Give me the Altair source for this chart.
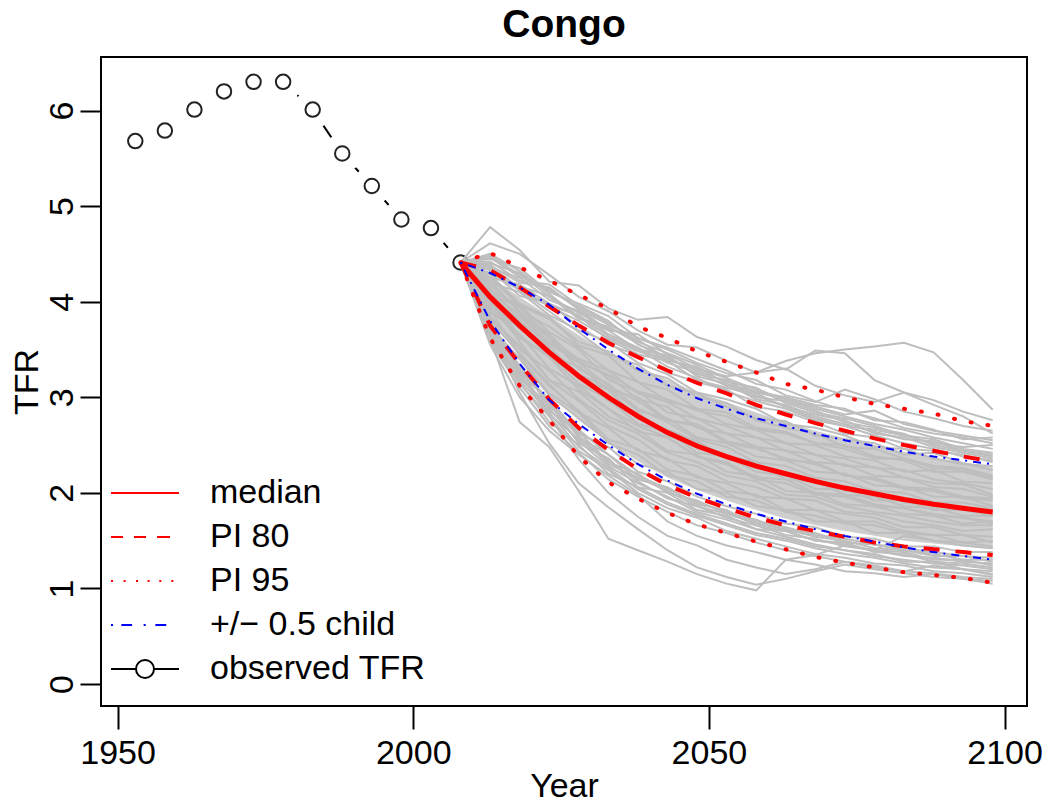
import altair as alt
import pandas as pd

FONT = "Liberation Sans"

# observed TFR
obs_years = [1953, 1958, 1963, 1968, 1973, 1978, 1983, 1988, 1993, 1998, 2003, 2008]
obs_tfr = [5.68, 5.79, 6.01, 6.20, 6.30, 6.30, 6.01, 5.55, 5.21, 4.86, 4.77, 4.41]

# projection years
proj_years = [2008, 2013, 2018, 2023, 2028, 2033, 2038, 2043, 2048, 2053,
              2058, 2063, 2068, 2073, 2078, 2083, 2088, 2093, 2098]

median = [4.41, 4.05, 3.75, 3.47, 3.22, 3.00, 2.80, 2.63, 2.49, 2.38,
          2.28, 2.20, 2.12, 2.05, 1.99, 1.93, 1.88, 1.84, 1.80]
pi80_lo = [4.41, 3.75, 3.35, 2.98, 2.68, 2.45, 2.25, 2.08, 1.95, 1.84,
           1.74, 1.66, 1.60, 1.54, 1.48, 1.44, 1.41, 1.38, 1.35]
pi80_hi = [4.41, 4.33, 4.15, 3.95, 3.75, 3.57, 3.42, 3.28, 3.15, 3.04,
           2.92, 2.82, 2.73, 2.65, 2.57, 2.50, 2.44, 2.38, 2.33]
pi95_lo = [4.41, 3.62, 3.12, 2.76, 2.38, 2.11, 1.94, 1.79, 1.67, 1.58,
           1.49, 1.41, 1.33, 1.27, 1.22, 1.17, 1.14, 1.11, 1.06]
pi95_hi = [4.41, 4.51, 4.36, 4.22, 4.07, 3.93, 3.74, 3.62, 3.48, 3.37,
           3.26, 3.14, 3.08, 3.00, 2.93, 2.88, 2.83, 2.75, 2.70]
half_lo = [4.41, 3.80, 3.35, 2.97, 2.72, 2.50, 2.30, 2.13, 1.99, 1.88,
           1.78, 1.70, 1.62, 1.55, 1.49, 1.43, 1.38, 1.34, 1.30]
half_hi = [4.41, 4.30, 4.15, 3.97, 3.72, 3.50, 3.30, 3.13, 2.99, 2.88,
           2.78, 2.70, 2.62, 2.55, 2.49, 2.43, 2.38, 2.34, 2.30]

# dense core of the trajectory cloud
core_lo = [4.41, 3.82, 3.42, 3.05, 2.76, 2.53, 2.33, 2.16, 2.03, 1.92,
           1.82, 1.73, 1.66, 1.60, 1.55, 1.50, 1.47, 1.44, 1.41]
core_hi = [4.41, 4.25, 4.05, 3.85, 3.65, 3.47, 3.32, 3.18, 3.05, 2.95,
           2.84, 2.74, 2.65, 2.57, 2.50, 2.43, 2.37, 2.32, 2.27]

trajectories = [
    [4.41, 4.30, 4.12, 3.95, 3.80, 3.62, 3.48, 3.40, 3.30, 3.22, 3.26, 3.38, 3.46, 3.50, 3.53, 3.57, 3.47, 3.18, 2.87],
    [4.41, 4.78, 4.54, 4.21, 4.17, 3.93, 3.81, 3.84, 3.63, 3.53, 3.39, 3.29, 3.49, 3.46, 3.18, 3.05, 2.97, 2.85, 2.76],
    [4.41, 4.61, 4.50, 4.28, 4.05, 3.90, 3.70, 3.55, 3.52, 3.38, 3.26, 3.30, 3.12, 3.02, 2.95, 3.05, 2.92, 2.80, 2.62],
    [4.41, 4.45, 4.35, 4.10, 3.98, 3.85, 3.62, 3.50, 3.36, 3.25, 3.18, 3.02, 2.95, 3.08, 2.98, 2.85, 2.78, 2.70, 2.65],
    [4.41, 4.38, 4.20, 4.15, 3.92, 3.70, 3.66, 3.45, 3.30, 3.20, 3.05, 2.98, 2.90, 2.82, 2.86, 2.72, 2.65, 2.60, 2.55],
    [4.41, 4.25, 4.18, 3.98, 3.85, 3.60, 3.45, 3.38, 3.18, 3.10, 3.02, 2.90, 2.78, 2.70, 2.66, 2.60, 2.52, 2.48, 2.50],
    [4.41, 4.33, 4.06, 3.98, 3.74, 3.55, 3.44, 3.26, 3.16, 3.08, 2.90, 2.85, 2.74, 2.62, 2.58, 2.46, 2.44, 2.40, 2.32],
    [4.41, 4.20, 4.10, 3.86, 3.70, 3.58, 3.36, 3.24, 3.05, 2.98, 2.88, 2.72, 2.68, 2.60, 2.48, 2.46, 2.36, 2.30, 2.28],
    [4.41, 4.36, 4.12, 3.90, 3.68, 3.45, 3.34, 3.12, 3.04, 2.90, 2.78, 2.75, 2.60, 2.56, 2.52, 2.40, 2.42, 2.31, 2.24],
    [4.41, 4.12, 3.96, 3.82, 3.58, 3.48, 3.28, 3.20, 3.00, 2.94, 2.76, 2.68, 2.62, 2.48, 2.46, 2.36, 2.28, 2.26, 2.18],
    [4.41, 4.18, 3.90, 3.74, 3.52, 3.28, 3.16, 2.96, 2.88, 2.72, 2.66, 2.52, 2.50, 2.38, 2.34, 2.22, 2.24, 2.12, 2.10],
    [4.41, 4.08, 3.94, 3.62, 3.40, 3.28, 3.04, 2.95, 2.78, 2.70, 2.58, 2.52, 2.40, 2.36, 2.26, 2.24, 2.14, 2.10, 2.04],
    [4.41, 4.25, 3.96, 3.68, 3.50, 3.18, 3.06, 2.84, 2.78, 2.62, 2.58, 2.44, 2.40, 2.28, 2.27, 2.16, 2.10, 2.09, 1.98],
    [4.41, 4.00, 3.84, 3.58, 3.38, 3.22, 2.98, 2.90, 2.68, 2.62, 2.48, 2.44, 2.32, 2.30, 2.18, 2.16, 2.06, 2.04, 1.96],
    [4.41, 4.15, 3.80, 3.56, 3.36, 3.12, 2.96, 2.76, 2.70, 2.52, 2.46, 2.36, 2.30, 2.18, 2.14, 2.04, 2.02, 1.94, 1.92],
    [4.41, 3.98, 3.72, 3.52, 3.24, 3.10, 2.86, 2.78, 2.58, 2.52, 2.38, 2.34, 2.22, 2.20, 2.08, 2.06, 1.96, 1.96, 1.86],
    [4.41, 4.05, 3.80, 3.42, 3.24, 2.96, 2.84, 2.60, 2.52, 2.36, 2.30, 2.20, 2.14, 2.02, 2.02, 1.90, 1.89, 1.84, 1.82],
    [4.41, 3.95, 3.62, 3.44, 3.14, 2.98, 2.72, 2.64, 2.42, 2.38, 2.22, 2.18, 2.04, 2.04, 1.92, 1.92, 1.82, 1.82, 1.76],
    [4.41, 4.10, 3.76, 3.54, 3.20, 3.08, 2.78, 2.66, 2.54, 2.38, 2.32, 2.14, 2.12, 1.98, 1.96, 1.86, 1.84, 1.76, 1.76],
    [4.41, 3.90, 3.66, 3.30, 3.12, 2.88, 2.70, 2.58, 2.38, 2.32, 2.16, 2.14, 2.00, 1.98, 1.88, 1.84, 1.78, 1.74, 1.70],
    [4.41, 3.85, 3.50, 3.28, 2.98, 2.76, 2.62, 2.42, 2.32, 2.18, 2.12, 1.98, 1.96, 1.86, 1.80, 1.76, 1.70, 1.66, 1.66],
    [4.41, 4.00, 3.58, 3.18, 2.96, 2.70, 2.56, 2.34, 2.28, 2.12, 2.06, 1.94, 1.92, 1.80, 1.78, 1.70, 1.66, 1.60, 1.62],
    [4.41, 3.80, 3.46, 3.14, 2.84, 2.68, 2.44, 2.36, 2.16, 2.10, 1.96, 1.94, 1.82, 1.78, 1.74, 1.64, 1.64, 1.56, 1.54],
    [4.41, 3.92, 3.44, 3.12, 2.86, 2.56, 2.46, 2.24, 2.18, 2.02, 1.98, 1.82, 1.82, 1.70, 1.70, 1.60, 1.56, 1.56, 1.48],
    [4.41, 3.75, 3.40, 3.02, 2.78, 2.54, 2.30, 2.22, 2.04, 2.00, 1.86, 1.82, 1.70, 1.70, 1.58, 1.58, 1.50, 1.48, 1.44],
    [4.41, 3.72, 3.28, 2.98, 2.62, 2.48, 2.22, 2.12, 1.96, 1.86, 1.78, 1.68, 1.64, 1.54, 1.52, 1.44, 1.44, 1.38, 1.38],
    [4.41, 3.68, 3.24, 2.86, 2.64, 2.32, 2.20, 2.00, 1.92, 1.78, 1.72, 1.60, 1.58, 1.48, 1.46, 1.40, 1.34, 1.34, 1.28],
    [4.41, 3.78, 3.30, 2.94, 2.52, 2.36, 2.06, 2.00, 1.82, 1.76, 1.62, 1.60, 1.50, 1.46, 1.40, 1.38, 1.30, 1.30, 1.24],
    [4.41, 3.62, 3.16, 2.74, 2.50, 2.20, 2.06, 1.90, 1.78, 1.68, 1.58, 1.52, 1.44, 1.40, 1.36, 1.28, 1.28, 1.20, 1.18],
    [4.41, 3.62, 2.74, 2.48, 2.02, 1.52, 1.40, 1.28, 1.15, 1.05, 0.98, 1.30, 1.35, 1.45, 1.40, 1.55, 1.50, 1.45, 1.42],
    [4.41, 3.70, 3.05, 2.52, 2.10, 1.85, 1.62, 1.40, 1.22, 1.12, 1.04, 1.10, 1.18, 1.25, 1.20, 1.16, 1.12, 1.10, 1.08],
    [4.41, 3.80, 3.25, 2.80, 2.35, 2.00, 1.75, 1.55, 1.45, 1.30, 1.22, 1.15, 1.20, 1.28, 1.22, 1.18, 1.24, 1.20, 1.15],
    [4.41, 3.55, 3.00, 2.65, 2.40, 2.18, 1.98, 1.70, 1.55, 1.45, 1.38, 1.30, 1.25, 1.18, 1.16, 1.12, 1.15, 1.10, 1.05],
    [4.41, 4.22, 3.88, 3.66, 3.36, 3.24, 3.06, 2.98, 2.86, 2.80, 2.66, 2.62, 2.52, 2.46, 2.36, 2.36, 2.26, 2.24, 2.16],
    [4.41, 3.88, 3.74, 3.44, 3.32, 3.08, 3.00, 2.76, 2.72, 2.54, 2.48, 2.34, 2.32, 2.18, 2.16, 2.06, 2.04, 1.96, 1.94],
    [4.41, 4.02, 3.64, 3.42, 3.08, 2.88, 2.64, 2.58, 2.38, 2.30, 2.14, 2.10, 1.98, 1.96, 1.86, 1.84, 1.76, 1.74, 1.68],
    [4.41, 3.82, 3.54, 3.18, 3.06, 2.80, 2.66, 2.44, 2.40, 2.22, 2.18, 2.02, 2.00, 1.88, 1.86, 1.78, 1.76, 1.68, 1.70],
    [4.41, 4.28, 3.98, 3.84, 3.54, 3.44, 3.16, 3.08, 2.88, 2.84, 2.68, 2.64, 2.52, 2.50, 2.38, 2.34, 2.22, 2.22, 2.14],
    [4.41, 3.65, 3.42, 3.04, 2.84, 2.52, 2.40, 2.18, 2.12, 1.96, 1.92, 1.80, 1.76, 1.68, 1.66, 1.58, 1.56, 1.48, 1.50],
    [4.41, 4.10, 3.86, 3.62, 3.30, 3.14, 2.88, 2.74, 2.56, 2.48, 2.32, 2.28, 2.16, 2.12, 2.02, 2.00, 1.90, 1.90, 1.84],
    [4.41, 4.48, 4.28, 4.12, 3.94, 3.78, 3.58, 3.46, 3.34, 3.20, 3.08, 2.98, 2.88, 2.80, 2.72, 2.66, 2.58, 2.52, 2.46],
    [4.41, 4.40, 4.30, 4.05, 3.88, 3.72, 3.60, 3.40, 3.28, 3.16, 3.10, 2.94, 2.84, 2.78, 2.70, 2.60, 2.56, 2.46, 2.42],
    [4.41, 4.42, 4.22, 4.18, 3.96, 3.80, 3.55, 3.42, 3.24, 3.18, 3.00, 2.96, 2.86, 2.74, 2.68, 2.62, 2.50, 2.44, 2.40],
    [4.41, 4.35, 4.25, 4.02, 3.90, 3.66, 3.52, 3.36, 3.26, 3.12, 3.04, 2.90, 2.82, 2.76, 2.62, 2.58, 2.48, 2.42, 2.36],
    [4.41, 4.50, 4.32, 4.08, 3.84, 3.70, 3.50, 3.44, 3.22, 3.14, 2.98, 2.92, 2.80, 2.72, 2.64, 2.56, 2.54, 2.44, 2.38],
    [4.41, 4.28, 4.16, 4.06, 3.82, 3.74, 3.56, 3.38, 3.32, 3.14, 3.06, 3.00, 2.92, 2.88, 2.76, 2.74, 2.66, 2.56, 2.58],
    [4.41, 4.38, 4.14, 3.96, 3.86, 3.64, 3.50, 3.32, 3.20, 3.06, 2.96, 2.88, 2.76, 2.70, 2.60, 2.52, 2.46, 2.38, 2.34],
    [4.41, 4.46, 4.26, 4.14, 3.92, 3.76, 3.62, 3.52, 3.40, 3.28, 3.14, 3.08, 2.96, 2.86, 2.78, 2.68, 2.62, 2.58, 2.52],
    [4.41, 3.66, 3.22, 2.88, 2.54, 2.28, 2.10, 1.96, 1.80, 1.72, 1.62, 1.54, 1.46, 1.40, 1.34, 1.30, 1.26, 1.24, 1.20],
    [4.41, 3.70, 3.30, 2.82, 2.56, 2.34, 2.12, 1.94, 1.86, 1.74, 1.66, 1.56, 1.52, 1.44, 1.40, 1.34, 1.32, 1.28, 1.26],
    [4.41, 3.64, 3.20, 2.92, 2.60, 2.30, 2.16, 2.02, 1.86, 1.78, 1.68, 1.62, 1.54, 1.50, 1.42, 1.40, 1.36, 1.30, 1.30],
    [4.41, 3.74, 3.18, 2.84, 2.48, 2.26, 2.04, 1.88, 1.76, 1.66, 1.56, 1.50, 1.42, 1.36, 1.32, 1.26, 1.22, 1.20, 1.14],
    [4.41, 3.68, 3.34, 2.90, 2.66, 2.40, 2.18, 2.04, 1.90, 1.80, 1.70, 1.64, 1.56, 1.52, 1.46, 1.42, 1.38, 1.34, 1.32],
    [4.41, 3.60, 3.14, 2.80, 2.44, 2.24, 2.00, 1.84, 1.74, 1.60, 1.52, 1.44, 1.36, 1.32, 1.26, 1.24, 1.18, 1.16, 1.12],
    [4.41, 3.76, 3.26, 2.96, 2.58, 2.40, 2.14, 2.06, 1.88, 1.82, 1.66, 1.60, 1.50, 1.48, 1.38, 1.36, 1.28, 1.26, 1.22],
    [4.41, 3.58, 3.10, 2.70, 2.42, 2.14, 1.96, 1.80, 1.66, 1.58, 1.48, 1.40, 1.34, 1.28, 1.24, 1.18, 1.16, 1.12, 1.10],
]

x_ticks = [1950, 2000, 2050, 2100]
y_ticks = [0, 1, 2, 3, 4, 5, 6]

legend_labels = ["median", "PI 80", "PI 95", "+/\u2212 0.5 child", "observed TFR"]
legend_colors = ["#FF0000", "#FF0000", "#FF0000", "#0000FF", "#000000"]
# legend line glyphs as SVG paths (unit = half the symbol size)
legend_paths = [
    "M-2,0L2,0",
    "M-2,0H-1.29M-0.65,0H0.06M0.71,0H1.47",
    "M-2,0h0.12M-1.26,0h0.12M-0.53,0h0.12M0.15,0h0.12M0.84,0h0.12M1.55,0h0.12",
    "M-2,0H-1.88M-1.39,0H-0.76M-0.08,0H0.04M0.61,0H1.25",
    "M-2,0H-0.53M0.53,0H2M0.53,0A0.53,0.53 0 1,1 -0.53,0A0.53,0.53 0 1,1 0.53,0",
]

# ---------------- data frames ----------------
obs_df = pd.DataFrame({"year": obs_years, "tfr": obs_tfr})
traj_df = pd.DataFrame(
    [{"traj": i, "year": yr, "tfr": v}
     for i, tr in enumerate(trajectories) for yr, v in zip(proj_years, tr)]
)
band_df = pd.DataFrame({"year": proj_years, "lo": core_lo, "hi": core_hi})


def two(lo, hi):
    return pd.DataFrame(
        {"year": proj_years * 2, "tfr": lo + hi,
         "bound": ["lo"] * len(lo) + ["hi"] * len(hi)}
    )


med_df = pd.DataFrame({"year": proj_years, "tfr": median})
pi80_df = two(pi80_lo, pi80_hi)
pi95_df = two(pi95_lo, pi95_hi)
half_df = two(half_lo, half_hi)
leg_df = pd.DataFrame({"series": legend_labels})

# ---------------- scales / axes ----------------
xs = alt.Scale(domain=[1947.2, 2103.8], nice=False, zero=False)
ys = alt.Scale(domain=[-0.23, 6.56], nice=False, zero=False)

x_axis = alt.Axis(
    values=x_ticks, format="d", title="Year", grid=False, domain=False,
    tickSize=23, tickWidth=2, tickColor="black",
    labelFont=FONT, labelFontSize=34, labelColor="black", labelPadding=34,
    labelBaseline="alphabetic", labelFlush=False, labelOverlap=False,
    titleFont=FONT, titleFontSize=34, titleFontWeight="normal", titleColor="black",
    titleBaseline="alphabetic", titleY=90,
)
y_axis = alt.Axis(
    values=y_ticks, format="d", title="TFR", grid=False, domain=False,
    tickSize=21, tickWidth=2, tickColor="black",
    labelFont=FONT, labelFontSize=34, labelColor="black", labelPadding=8,
    labelAngle=270, labelAlign="center", labelBaseline="alphabetic",
    labelFlush=False, labelOverlap=False,
    titleFont=FONT, titleFontSize=34, titleFontWeight="normal", titleColor="black",
    titleAngle=270, titleAlign="center", titleBaseline="alphabetic", titleX=-64,
)

X = alt.X("year:Q", scale=xs, axis=x_axis)
Y = alt.Y("tfr:Q", scale=ys, axis=y_axis)

# ---------------- layers ----------------
obs_line = alt.Chart(obs_df).mark_line(color="black", strokeWidth=2).encode(x=X, y=Y)
obs_mask = alt.Chart(obs_df).mark_point(
    filled=True, color="white", size=1520, opacity=1, strokeWidth=0
).encode(x=X, y=Y)
obs_pts = alt.Chart(obs_df).mark_point(
    filled=False, color="#222222", size=210, opacity=1, strokeWidth=2
).encode(x=X, y=Y)

band = alt.Chart(band_df).mark_area(color="#cecece", opacity=1).encode(
    x=X, y=alt.Y("lo:Q", scale=ys, axis=y_axis), y2="hi:Q"
)
traj = alt.Chart(traj_df).mark_line(color="#bebebe", strokeWidth=2).encode(
    x=X, y=Y, detail="traj:N"
)
med_line = alt.Chart(med_df).mark_line(color="#FF0000", strokeWidth=5).encode(x=X, y=Y)
pi80_line = alt.Chart(pi80_df).mark_line(
    color="#FF0000", strokeWidth=4, strokeDash=[16, 16]
).encode(x=X, y=Y, detail="bound:N")
pi95_line = alt.Chart(pi95_df).mark_line(
    color="#FF0000", strokeWidth=4, strokeDash=[1, 16], strokeCap="round"
).encode(x=X, y=Y, detail="bound:N")
half_line = alt.Chart(half_df).mark_line(
    color="#0000FF", strokeWidth=2, strokeDash=[2, 6, 8, 6]
).encode(x=X, y=Y, detail="bound:N")

leg = alt.Legend(
    title=None, orient="none", legendX=26, legendY=418, padding=0,
    rowPadding=9, labelFont=FONT, labelFontSize=34, labelColor="black",
    labelOffset=47, labelLimit=0, symbolStrokeWidth=2, symbolSize=1156,
    direction="vertical",
)
legend_layer = alt.Chart(leg_df).transform_filter("datum.series == 'none'").mark_point(
    filled=False, size=1156, strokeWidth=2, opacity=1
).encode(
    color=alt.Color("series:N", scale=alt.Scale(domain=legend_labels, range=legend_colors), legend=leg),
    shape=alt.Shape("series:N", scale=alt.Scale(domain=legend_labels, range=legend_paths), legend=leg),
)

chart = alt.layer(
    obs_line, obs_mask, obs_pts, band, traj,
    med_line, pi80_line, pi95_line, half_line, legend_layer,
).properties(
    width=926, height=649,
    padding={"left": 93, "top": 49, "right": 15, "bottom": 93},
    autosize=alt.AutoSizeParams(type="none"),
    title=alt.TitleParams(
        text="Congo", font=FONT, fontSize=39, fontWeight="bold", color="black",
        anchor="middle", offset=12,
    ),
).configure_view(stroke="black", strokeWidth=2)

chart.save("out.html", embed_options={"renderer": "svg", "actions": False})
